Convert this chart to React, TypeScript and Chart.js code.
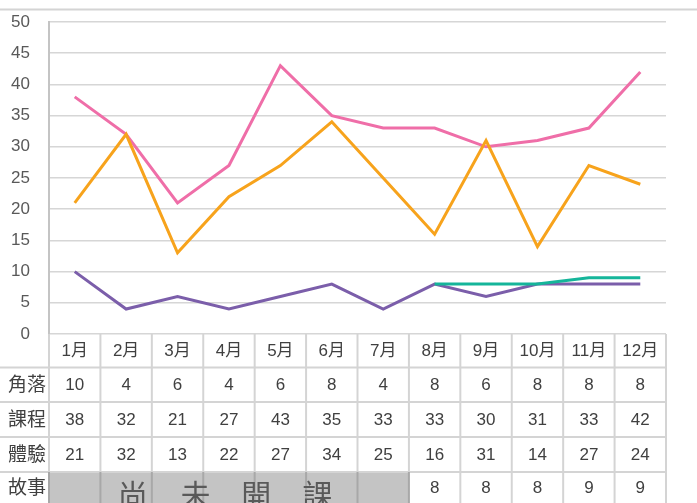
import React, { useEffect, useRef } from "react";
import { Chart, registerables } from "chart.js";

Chart.register(...registerables);

const months = ["1月", "2月", "3月", "4月", "5月", "6月", "7月", "8月", "9月", "10月", "11月", "12月"];
const rowLabels = ["角落", "課程", "體驗", "故事"];
const cornerValues = [10, 4, 6, 4, 6, 8, 4, 8, 6, 8, 8, 8];
const courseValues = [38, 32, 21, 27, 43, 35, 33, 33, 30, 31, 33, 42];
const experienceValues = [21, 32, 13, 22, 27, 34, 25, 16, 31, 14, 27, 24];
const storyValues: (number | null)[] = [null, null, null, null, null, null, null, 8, 8, 8, 9, 9];
const notOpenChars = ["尚", "未", "開", "課"];
const yTicks = [0, 5, 10, 15, 20, 25, 30, 35, 40, 45, 50];

const COLORS = {
  corner: "#7B5EAA",
  course: "#EF6EA8",
  experience: "#F7A31C",
  story: "#15B59A",
};

const FONT = "'Liberation Sans', 'Noto Sans CJK TC', sans-serif";

const tablePlugin = {
  id: "dataTable",
  afterDraw(chart: any) {
    const ctx = chart.ctx as CanvasRenderingContext2D;
    const area = chart.chartArea;
    const xs = chart.scales.x;
    const ys = chart.scales.y;
    const left = area.left;
    const right = area.right;
    const colW = (right - left) / months.length;
    const top = area.bottom;
    const rowTops = [top, 367.5, 402, 437, 472, 503];

    ctx.save();
    // top border line
    ctx.strokeStyle = "#d4d4d4";
    ctx.lineWidth = 2;
    ctx.beginPath();
    ctx.moveTo(0, 9.5);
    ctx.lineTo(697, 9.5);
    ctx.stroke();

    // y tick labels
    ctx.fillStyle = "#595959";
    ctx.font = `17px ${FONT}`;
    ctx.textAlign = "right";
    ctx.textBaseline = "middle";
    for (const t of yTicks) {
      ctx.fillText(String(t), 30, ys.getPixelForValue(t));
    }

    // gray cells for not-opened months
    ctx.fillStyle = "#c4c4c4";
    ctx.fillRect(left, rowTops[4], colW * 7, rowTops[5] - rowTops[4]);

    // horizontal lines
    ctx.strokeStyle = "#d4d4d4";
    ctx.lineWidth = 2;
    for (let i = 1; i <= 4; i++) {
      ctx.beginPath();
      ctx.moveTo(0, rowTops[i]);
      ctx.lineTo(right, rowTops[i]);
      ctx.stroke();
    }
    // vertical lines
    for (let c = 0; c <= months.length; c++) {
      const x = left + c * colW;
      ctx.strokeStyle = "#d4d4d4";
      ctx.beginPath();
      ctx.moveTo(x, top);
      ctx.lineTo(x, rowTops[4]);
      ctx.stroke();
      ctx.strokeStyle = c <= 7 ? "#a8a8a8" : "#d4d4d4";
      ctx.beginPath();
      ctx.moveTo(x, rowTops[4]);
      ctx.lineTo(x, 503);
      ctx.stroke();
    }

    // month labels
    ctx.fillStyle = "#404040";
    ctx.textAlign = "center";
    ctx.font = `17px ${FONT}`;
    months.forEach((m, i) => {
      ctx.fillText(m, xs.getPixelForValue(i), (rowTops[0] + rowTops[1]) / 2 + 1);
    });

    // row labels
    ctx.textAlign = "right";
    ctx.font = `19px ${FONT}`;
    rowLabels.forEach((l, r) => {
      ctx.fillText(l, 46, (rowTops[r + 1] + rowTops[r + 2]) / 2 + 1);
    });

    // values
    ctx.textAlign = "center";
    ctx.font = `17px ${FONT}`;
    const rows: (number | null)[][] = [cornerValues, courseValues, experienceValues, storyValues];
    rows.forEach((vals, r) => {
      const cy = (rowTops[r + 1] + rowTops[r + 2]) / 2 + 1;
      vals.forEach((v, i) => {
        if (v === null) return;
        ctx.fillText(String(v), xs.getPixelForValue(i), cy);
      });
    });

    // not-opened text
    ctx.fillStyle = "#595959";
    ctx.font = `30px 'Noto Sans CJK TC', sans-serif`;
    ctx.textAlign = "center";
    ctx.textBaseline = "alphabetic";
    const centers = [1.63, 2.85, 4.03, 5.22];
    notOpenChars.forEach((ch, i) => {
      ctx.fillText(ch, left + centers[i] * colW, 506);
    });

    ctx.restore();
  },
};

export default function App() {
  const ref = useRef<HTMLCanvasElement | null>(null);
  useEffect(() => {
    if (!ref.current) return;
    const lineDs = (label: string, data: (number | null)[], color: string, order: number) => ({
      label,
      data,
      borderColor: color,
      backgroundColor: color,
      borderWidth: 3,
      pointRadius: 0,
      tension: 0,
      fill: false,
      order,
      spanGaps: false,
    });
    const chart = new Chart(ref.current, {
      type: "line",
      data: {
        labels: months,
        datasets: [
          lineDs("故事", storyValues, COLORS.story, 0),
          lineDs("角落", cornerValues, COLORS.corner, 1),
          lineDs("體驗", experienceValues, COLORS.experience, 2),
          lineDs("課程", courseValues, COLORS.course, 3),
        ],
      },
      options: {
        animation: false,
        responsive: false,
        devicePixelRatio: 1,
        layout: { padding: { top: 22, bottom: 169, left: 0, right: 31 } },
        plugins: { legend: { display: false }, tooltip: { enabled: false } },
        scales: {
          x: { type: "category", display: false, offset: true },
          y: {
            min: 0,
            max: 50,
            ticks: { stepSize: 5, display: false },
            grid: { color: "#d6d6d6", lineWidth: 1.5, drawTicks: false },
            border: { display: true, color: "#c4c4c4", width: 2 },
            afterFit: (scale: any) => {
              scale.width = 49;
            },
          },
        },
      },
      plugins: [tablePlugin],
    });
    return () => chart.destroy();
  }, []);
  return (
    <div style={{ position: "fixed", left: 0, top: 0, width: 697, height: 503, background: "#fff" }}>
      <canvas ref={ref} width={697} height={503} style={{ display: "block" }} />
    </div>
  );
}
